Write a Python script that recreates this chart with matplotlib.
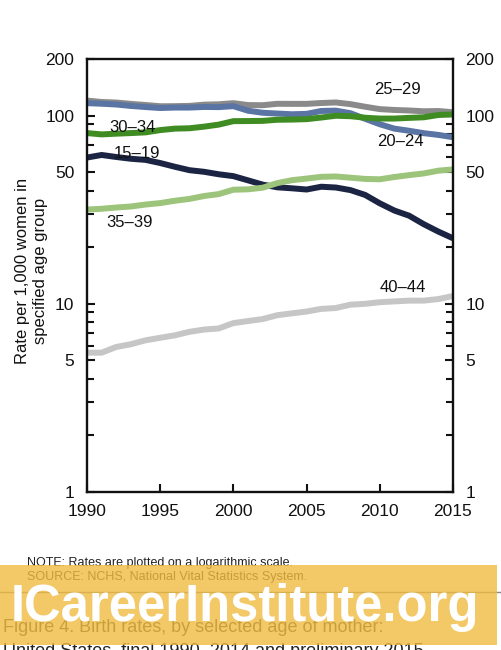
import matplotlib
matplotlib.use("Agg")
import matplotlib.pyplot as plt
from matplotlib import font_manager
from matplotlib.patches import Rectangle
from matplotlib.ticker import FixedLocator, NullFormatter

# ----------------------------------------------------------------------
# Data: births per 1,000 women by age group, 1990-2015
# ----------------------------------------------------------------------
years = list(range(1990, 2016))

rate_15_19 = [59.9, 61.8, 60.3, 59.0, 58.2, 56.0, 53.5, 51.3, 50.3, 48.8,
              47.7, 45.3, 43.0, 41.6, 41.1, 40.5, 41.9, 41.5, 40.2, 37.9,
              34.2, 31.3, 29.4, 26.5, 24.2, 22.3]
rate_20_24 = [116.5, 115.7, 114.6, 112.6, 111.1, 109.8, 110.4, 110.4, 111.2, 111.0,
              112.3, 106.2, 103.6, 102.6, 101.7, 102.2, 105.9, 106.3, 103.0, 96.2,
              90.0, 85.3, 83.1, 80.7, 79.0, 76.8]
rate_25_29 = [120.2, 118.2, 117.4, 115.5, 113.9, 112.2, 112.3, 112.7, 114.4, 114.9,
              116.5, 113.8, 113.6, 115.6, 115.5, 115.5, 116.7, 117.5, 115.1, 111.5,
              108.3, 107.2, 106.5, 105.5, 105.8, 104.3]
rate_30_34 = [80.8, 79.5, 80.2, 80.8, 81.5, 83.8, 85.3, 85.7, 87.4, 89.6,
              93.5, 93.6, 93.8, 95.1, 95.3, 95.8, 97.7, 99.9, 99.3, 97.5,
              96.5, 96.5, 97.3, 98.0, 100.8, 101.5]
rate_35_39 = [31.7, 32.0, 32.5, 32.9, 33.7, 34.3, 35.3, 36.1, 37.4, 38.3,
              40.4, 40.6, 41.4, 43.8, 45.4, 46.3, 47.3, 47.5, 46.8, 46.1,
              45.9, 47.2, 48.3, 49.3, 51.0, 51.8]
rate_40_44 = [5.5, 5.5, 5.9, 6.1, 6.4, 6.6, 6.8, 7.1, 7.3, 7.4,
              7.9, 8.1, 8.3, 8.7, 8.9, 9.1, 9.4, 9.5, 9.9, 10.0,
              10.2, 10.3, 10.4, 10.4, 10.6, 11.0]

age_groups = ["25\u201329", "20\u201324", "30\u201334", "15\u201319", "35\u201339", "40\u201344"]
series = [rate_25_29, rate_20_24, rate_30_34, rate_15_19, rate_35_39, rate_40_44]
colors = ["#8a8a8a", "#5a74a3", "#3f8c22", "#1c2443", "#9cc47a", "#c6c6c6"]
# label anchor (year, rate) for each age group
label_pos = [(2011.2, 137), (2011.4, 73), (1993.1, 87), (1993.4, 63), (1992.9, 27), (2011.6, 12.2)]

major_y = [1, 5, 10, 50, 100, 200]
minor_y = [2, 3, 4, 6, 7, 8, 9, 20, 30, 40, 60, 70, 80, 90]
x_ticks = [1990, 1995, 2000, 2005, 2010, 2015]


def _family(name, fallback="Liberation Sans"):
    try:
        font_manager.findfont(name, fallback_to_default=False)
        return name
    except ValueError:
        return fallback


SANS = _family("Liberation Sans", "DejaVu Sans")
plt.rcParams["font.family"] = SANS

fig = plt.figure(figsize=(5.01, 6.5), dpi=100)
fig.patch.set_facecolor("white")

W, H = 501, 650
left, right, top, bottom = 87, 453, 59, 492
ax = fig.add_axes([left / W, 1 - bottom / H, (right - left) / W, (bottom - top) / H])

for vals, col in zip(series, colors):
    ax.plot(years, vals, color=col, linewidth=4.3, solid_capstyle="butt",
            solid_joinstyle="round")

for name, (lx, ly) in zip(age_groups, label_pos):
    ax.text(lx, ly, name, fontsize=12, ha="center", va="center", color="#111111")

ax.set_yscale("log")
ax.set_ylim(1, 200)
ax.set_xlim(1990, 2015)
ax.yaxis.set_major_locator(FixedLocator(major_y))
ax.yaxis.set_minor_locator(FixedLocator(minor_y))
ax.yaxis.set_minor_formatter(NullFormatter())
ax.set_yticklabels([str(v) for v in major_y])
ax.set_xticks(x_ticks)
ax.set_xticklabels([str(v) for v in x_ticks])

for sp in ax.spines.values():
    sp.set_linewidth(1.7)
    sp.set_color("#111111")

ax.tick_params(axis="y", which="both", direction="in", left=True, right=True,
               labelleft=True, labelright=True, labelsize=12.5, colors="#111111")
ax.tick_params(axis="y", which="major", length=6, width=1.5, pad=9)
ax.tick_params(axis="y", which="minor", length=5, width=1.5)
ax.tick_params(axis="x", which="major", direction="in", length=6, width=1.5,
               labelsize=12.5, pad=9, colors="#111111")

fig.text(32 / W, 1 - 271 / H, "Rate per 1,000 women in\nspecified age group",
         rotation=90, ha="center", va="center", fontsize=12, linespacing=1.25,
         multialignment="center", color="#111111")

# notes and caption
fig.text(27 / W, 1 - 563 / H, "NOTE: Rates are plotted on a logarithmic scale.",
         fontsize=9, ha="left", va="center", color="#222222")
fig.text(27 / W, 1 - 577 / H, "SOURCE: NCHS, National Vital Statistics System.",
         fontsize=9, ha="left", va="center", color="#222222")
fig.add_artist(plt.Line2D([0, 1], [1 - 592 / H, 1 - 592 / H], color="#888888",
                          linewidth=1, transform=fig.transFigure, zorder=2))
fig.text(3 / W, 1 - 628 / H, "Figure 4. Birth rates, by selected age of mother:",
         fontsize=13, ha="left", va="center", color="#333333")
fig.text(3 / W, 1 - 643 / H, "United States, final 1990\u20132014 and preliminary 2015",
         fontsize=13, ha="left", va="top", color="#222222")

# watermark band
band = Rectangle((0, 1 - 645 / H), 497 / W, 80 / H, transform=fig.transFigure,
                 facecolor="#f0bb40", alpha=0.8, edgecolor="none", zorder=5)
fig.add_artist(band)
fig.text(245 / W, 1 - 621 / H, "ICareerInstitute.org", fontsize=36.5,
         fontweight="bold", ha="center", va="baseline", color="white", zorder=6)

fig.savefig("out.png", dpi=100)
